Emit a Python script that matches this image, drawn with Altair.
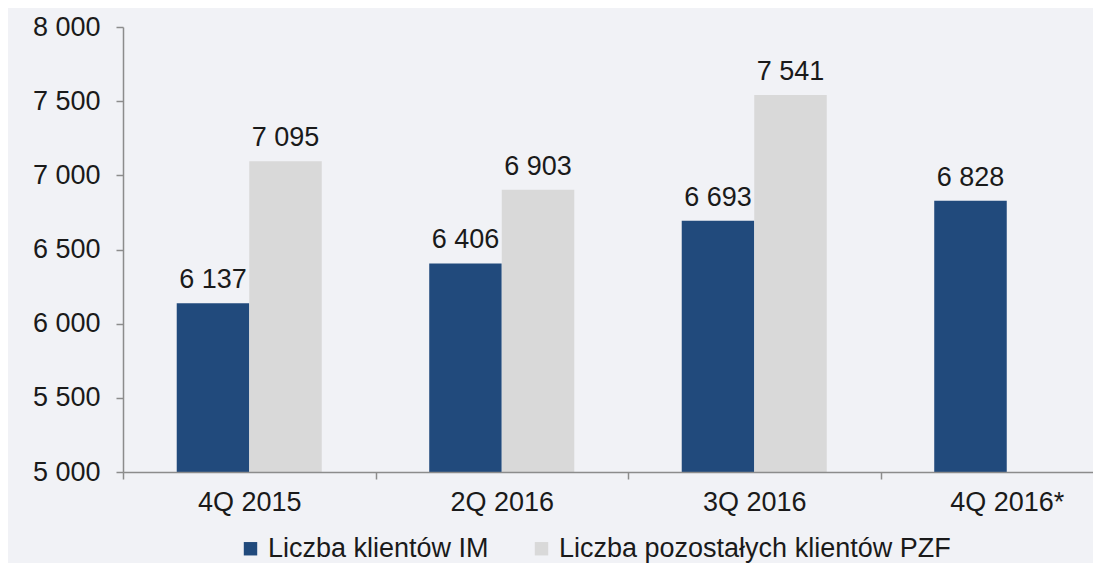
import altair as alt
import pandas as pd

quarters = ["4Q 2015", "2Q 2016", "3Q 2016", "4Q 2016*"]
series = ["Liczba klientów IM", "Liczba pozostałych klientów PZF"]
im_values = [6137, 6406, 6693, 6828]
pzf_values = [7095, 6903, 7541, None]
y_ticks = [5000, 5500, 6000, 6500, 7000, 7500, 8000]

rows = []
for q, a, b in zip(quarters, im_values, pzf_values):
    rows.append({"quarter": q, "series": series[0], "value": a})
    if b is not None:
        rows.append({"quarter": q, "series": series[1], "value": b})
df = pd.DataFrame(rows)

FONT = "Liberation Sans"
FS = 27
NAVY = "#214a7c"
GREY = "#d9d9d9"
TXT = "#1a1a1a"
AX = "#8c8c8c"

x_enc = alt.X(
    "quarter:N",
    sort=quarters,
    scale=alt.Scale(range=[0, 1010], paddingInner=0, paddingOuter=0),
    axis=alt.Axis(
        title=None, labelAngle=0, labelFontSize=FS, labelFont=FONT, labelColor=TXT,
        tickSize=7, tickBand="extent", labelPadding=10, domainColor=AX, tickColor=AX,
        domainWidth=1.5, tickWidth=1.5, zindex=1,
    ),
)
xo_enc = alt.XOffset("series:N", sort=series,
                     scale=alt.Scale(paddingOuter=0.741, paddingInner=0))
y_enc = alt.Y(
    "value:Q",
    scale=alt.Scale(domain=[5000, 8000], zero=False, nice=False),
    axis=alt.Axis(
        title=None, values=y_ticks, grid=False, labelFontSize=FS, labelFont=FONT,
        labelColor=TXT, tickSize=7, labelPadding=16, domainColor=AX, tickColor=AX,
        domainWidth=1.5, tickWidth=1.5, zindex=1,
        labelExpr="replace(format(datum.value, ','), ',', ' ')",
    ),
)

bars = alt.Chart(df).mark_bar().encode(
    x=x_enc,
    xOffset=xo_enc,
    y=y_enc,
    y2=alt.datum(5000),
    color=alt.Color(
        "series:N",
        sort=series,
        scale=alt.Scale(domain=series, range=[NAVY, GREY]),
        legend=alt.Legend(
            title=None, orient="none", direction="horizontal", legendX=114, legendY=508,
            labelFontSize=FS, labelFont=FONT, labelColor=TXT, symbolType="square",
            symbolSize=180, symbolStrokeWidth=0, labelOffset=4, columnPadding=39,
            padding=0, labelLimit=1000,
        ),
    ),
)

labels = alt.Chart(df).transform_calculate(
    label="replace(format(datum.value, ','), ',', ' ')"
).mark_text(fontSize=FS, font=FONT, color=TXT, baseline="alphabetic", dy=-15).encode(
    x=alt.X("quarter:N", sort=quarters),
    xOffset=alt.XOffset("series:N", sort=series),
    y=alt.Y("value:Q"),
    text="label:N",
)

chart = alt.layer(bars, labels).properties(
    width=970,
    height=445,
    background="#f1f2f6",
    autosize=alt.AutoSizeParams(type="none"),
    padding={"left": 115, "top": 19, "right": 0, "bottom": 91},
).configure_view(stroke=None)

chart.save("out.html", embed_options={"renderer": "svg", "actions": False})
